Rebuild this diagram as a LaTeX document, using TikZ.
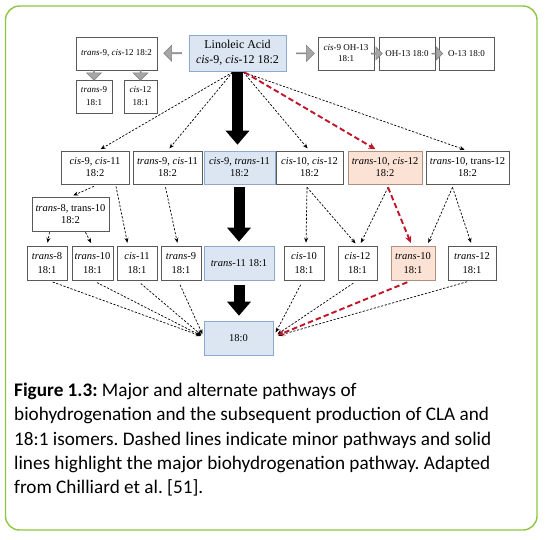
\documentclass[tikz,border=0pt]{standalone}
\usepackage{fontspec}
\setmainfont{Liberation Serif}
\newfontfamily\capfont{Carlito}
\usetikzlibrary{arrows.meta,shapes.arrows,calc}
\definecolor{frameGreen}{HTML}{8DC63F}
\definecolor{boxBlue}{HTML}{DCE6F2}
\definecolor{boxBlueLine}{HTML}{8EAACB}
\definecolor{boxOrange}{HTML}{FBE2D5}
\definecolor{boxOrangeLine}{HTML}{B09080}
\definecolor{boxLine}{HTML}{595959}
\definecolor{grayArrow}{HTML}{A6A6A6}
\definecolor{grayArrowLine}{HTML}{7F7F7F}
\definecolor{redPath}{HTML}{C0162A}
\frenchspacing
\begin{document}
\begin{tikzpicture}[x=1pt,y=-1pt,
  box/.style={draw=boxLine, line width=0.6pt, fill=white, inner sep=0pt, align=center},
  bluebox/.style={box, draw=boxBlueLine, fill=boxBlue},
  orangebox/.style={box, draw=boxOrangeLine, fill=boxOrange},
  rowtwo/.style={minimum height=33pt, font=\fontsize{10.5}{12}\selectfont},
  rowthree/.style={minimum height=34pt, font=\fontsize{10.5}{13.5}\selectfont},
  topsmall/.style={minimum height=33pt, font=\fontsize{9}{11}\selectfont},
  grayarrow/.style={single arrow, draw=grayArrowLine, fill=grayArrow, inner sep=0pt,
    line width=0.5pt, minimum height=18pt, minimum width=16pt, single arrow head extend=3.5pt},
  smallgray/.style={grayarrow, minimum height=11pt, minimum width=13pt, single arrow head extend=3pt},
  downgray/.style={grayarrow, minimum height=10pt, minimum width=15pt, single arrow head extend=3.5pt, shape border rotate=270},
  bigarrow/.style={line width=11pt, -{Triangle[width=23pt,length=14pt]}},
  minor/.style={line width=0.7pt, dash pattern=on 2.2pt off 1.6pt, -{Stealth[length=5pt,width=4pt]}, shorten >=3pt},
  redminor/.style={redPath, line width=1.9pt, dash pattern=on 5.5pt off 3pt, -{Stealth[length=7pt,width=6.5pt]}, shorten >=3pt}
]
\useasboundingbox (0,0) rectangle (551,539);
\draw[frameGreen, line width=1.4pt, rounded corners=14pt] (5.5,6) rectangle (537,530);

% top row
\node[box, topsmall, minimum width=81pt] (t1) at (116.5,53.5) {\textit{trans}-9, \textit{cis}-12 18:2};
\node[bluebox, minimum width=97pt, minimum height=36pt, font=\fontsize{12}{15}\selectfont] (la) at (237.5,53) {Linoleic Acid\\\textit{cis}-9, \textit{cis}-12 18:2};
\node[box, topsmall, minimum width=36pt, font=\fontsize{9}{13}\selectfont] (t9) at (94,96.5) {\textit{trans}-9\\18:1};
\node[box, topsmall, minimum width=33pt, font=\fontsize{9}{13}\selectfont] (c12a) at (140.5,96.5) {\textit{cis}-12\\18:1};
\node[box, topsmall, minimum width=56pt] (oh1) at (346,53.5) {\textit{cis}-9 OH-13\\18:1};
\node[box, topsmall, minimum width=56pt] (oh2) at (407,53.5) {OH-13 18:0};
\node[box, topsmall, minimum width=55pt] (oh3) at (466.5,53.5) {O-13 18:0};

% gray block arrows
\node[grayarrow, shape border rotate=180] (ga1) at ($(t1.east)!0.5!(la.west)$) {};
\node[grayarrow] (ga2) at ($(la.east)!0.6!(oh1.west)$) {};
\node[smallgray] (ga3) at ($(oh1.east)!0.5!(oh2.west)$) {};
\node[smallgray] (ga4) at ($(oh2.east)!0.5!(oh3.west)$) {};
\node[downgray] (ga5) at ($(t9.north)!0.5!(t9.north |- t1.south)$) {};
\node[downgray] (ga6) at ($(c12a.north)!0.5!(c12a.north |- t1.south)$) {};

% row 2
\node[box, rowtwo, minimum width=68pt] (r2a) at (95,167.5) {\textit{cis}-9, \textit{cis}-11\\18:2};
\node[box, rowtwo, minimum width=69pt] (r2b) at (167.5,167.5) {\textit{trans}-9, \textit{cis}-11\\18:2};
\node[bluebox, rowtwo, minimum width=71pt] (r2c) at (239.5,167.5) {\textit{cis}-9, \textit{trans}-11\\18:2};
\node[box, rowtwo, minimum width=67pt] (r2d) at (309.5,167.5) {\textit{cis}-10, \textit{cis}-12\\18:2};
\node[orangebox, rowtwo, minimum width=74pt] (r2e) at (385,167.5) {\textit{trans}-10, \textit{cis}-12\\18:2};
\node[box, rowtwo, minimum width=83pt] (r2f) at (467.5,167.5) {\textit{trans}-10, trans-12\\18:2};
\node[box, rowtwo, minimum height=34pt, minimum width=77pt] (r2g) at (70.5,214) {\textit{trans}-8, trans-10\\18:2};

% row 3
\node[box, rowthree, minimum width=40pt] (r3a) at (47,263) {\textit{trans}-8\\18:1};
\node[box, rowthree, minimum width=41pt] (r3b) at (92.5,263) {\textit{trans}-10\\18:1};
\node[box, rowthree, minimum width=40pt] (r3c) at (137,263) {\textit{cis}-11\\18:1};
\node[box, rowthree, minimum width=40pt] (r3d) at (181,263) {\textit{trans}-9\\18:1};
\node[bluebox, rowthree, minimum width=70pt] (r3e) at (239,263) {\textit{trans}-11 18:1};
\node[box, rowthree, minimum width=40pt] (r3f) at (304,263) {\textit{cis}-10\\18:1};
\node[box, rowthree, minimum width=39pt] (r3g) at (357.5,263) {\textit{cis}-12\\18:1};
\node[orangebox, rowthree, minimum width=44pt] (r3h) at (413,263) {\textit{trans}-10\\18:1};
\node[box, rowthree, minimum width=48pt] (r3i) at (472,263) {\textit{trans}-12\\18:1};

% final
\node[bluebox, rowthree, minimum width=69pt] (s18) at (238.5,338) {18:0};

% major pathway
\draw[bigarrow, shorten <=1pt, shorten >=6pt] (la.south) -- (la.south |- r2c.north);
\draw[bigarrow, shorten <=3pt, shorten >=4pt] (r3e.north |- r2c.south) -- (r3e.north);
\draw[bigarrow, shorten <=5pt, shorten >=5pt] (r3e.south) -- (r3e.south |- s18.north);

% minor pathways from linoleic acid
\draw[minor] ($(la.south)+(-5,1)$) -- ($(r2a.north)+(3,0)$);
\draw[minor] ($(la.south)+(-5,1)$) -- (r2b.north);
\draw[minor] ($(la.south)+(6,1)$) -- (r2d.north);
\draw[minor] ($(la.south)+(6,1)$) -- (r2f.north);

% row 2 -> row 3
\draw[minor] ($(r2a.south)+(-1,2)$) -- (r2g.north);
\draw[minor] ($(r2a.south)+(21,2)$) -- ($(r3c.north)+(-9,0)$);
\draw[minor] ($(r2b.south)+(-2,3)$) -- ($(r3d.north)+(-3,0)$);
\draw[minor] ($(r2g.south)+(-21,1)$) -- (r3a.north);
\draw[minor] ($(r2g.south)+(15,1)$) -- (r3b.north);
\draw[minor] ($(r2d.south)+(-2.5,3)$) -- ($(r3f.north)+(2,0)$);
\draw[minor] ($(r2d.south)+(-2.5,3)$) -- (r3g.north);
\draw[minor] ($(r2e.south)+(3,3)$) -- ($(r3g.north)+(2,0)$);
\draw[minor] ($(r2f.south)+(-15,3)$) -- ($(r3h.north)+(14,0)$);
\draw[minor] ($(r2f.south)+(-15,3)$) -- (r3i.north);

% row 3 -> 18:0
\foreach \n/\dx in {r3a/1,r3b/0,r3c/0,r3d/-3}
  \draw[minor, shorten <=5pt] ($(\n.south)+(\dx,0)$) -- ($(s18.west)+(0,-1)$);
\foreach \n/\dx in {r3f/-1,r3g/0,r3i/0}
  \draw[minor, shorten <=5pt, shorten >=5pt] ($(\n.south)+(\dx,0)$) -- ($(s18.east)+(0,-1)$);

% red alternate pathway
\draw[redminor] ($(la.south)+(7,1)$) -- ($(r2e.north)+(-7,0)$);
\draw[redminor] ($(r2e.south)+(3,3)$) -- ($(r3h.north)+(-1,0)$);
\draw[redminor, shorten <=5pt, shorten >=5pt] ($(r3h.south)+(-1,0)$) -- ($(s18.east)+(0,-1)$);

% caption
\node[anchor=north west, inner sep=0pt, align=left, font=\capfont\fontsize{19.2}{24.25}\selectfont] (cap) at (14,383)
{\textbf{Figure 1.3:} Major and alternate pathways of\\
biohydrogenation and the subsequent production of CLA and\\
18:1 isomers. Dashed lines indicate minor pathways and solid\\
lines highlight the major biohydrogenation pathway. Adapted\\
from Chilliard et al. [51].};
\end{tikzpicture}
\end{document}
